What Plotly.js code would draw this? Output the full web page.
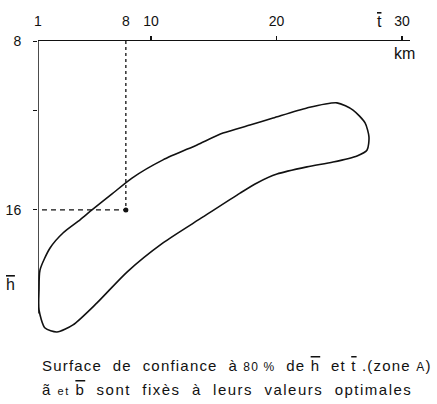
<!DOCTYPE html>
<html><head><meta charset="utf-8">
<script src="https://cdn.plot.ly/plotly-3.0.1.min.js"></script>
<style>body{margin:0;background:#fff}#c{width:437px;height:404px}</style>
</head><body><div id="c"></div>
<script>
// Confidence contour (t in km, h)
const contourT = [1.16,1.96,2.99,4.35,5.30,6.90,8.49,10.96,13.67,15.74,17.89,19.73,22.43,24.82,26.10,27.06,27.37,27.22,26.42,24.51,22.43,20.04,18.45,17.10,14.15,10.96,8.09,5.70,3.79,2.51,1.56,1.08,1.08,1.16];
const contourH = [18.84,17.80,17.09,16.47,16.00,15.24,14.49,13.63,12.92,12.36,11.98,11.65,11.17,10.93,11.27,11.88,12.54,13.16,13.44,13.73,13.96,14.30,14.72,15.20,16.33,17.56,18.94,20.40,21.44,21.78,21.59,20.73,19.79,18.84];
// Optimum point
const optT = [8];
const optH = [16];
const xTicks = [1, 8, 10, 20, 30];
const xMarks = [10, 20, 30];
const yTicks = [8, 11.3, 16];
const yTickText = ['8', '', '16'];

const F = 'Liberation Sans, Arial, sans-serif';
const ol = s => '<span style="text-decoration:overline">' + s + '</span>';
const traces = [
  {x: contourT, y: contourH, mode: 'lines', line: {color: '#111', width: 1.6, shape: 'spline', smoothing: 0.7}, hoverinfo: 'skip'},
  {x: [optT[0], optT[0]], y: [8, optH[0]], mode: 'lines', line: {color: '#111', width: 1.3, dash: '3px,3px'}},
  {x: [0.6, optT[0]], y: [optH[0], optH[0]], mode: 'lines', line: {color: '#111', width: 1.3, dash: '5px,4px'}, cliponaxis: false},
  {x: optT, y: optH, mode: 'markers', marker: {color: '#111', size: 5}, cliponaxis: false}
];
const layout = {
  width: 437, height: 404,
  margin: {l: 38, r: 27, t: 41, b: 69},
  showlegend: false,
  paper_bgcolor: '#fff', plot_bgcolor: '#fff',
  font: {family: F, color: '#111', size: 13},
  xaxis: {side: 'top', range: [1, 30.64], tickvals: xTicks, ticktext: xTicks.map(String),
          showline: true, linecolor: '#111', linewidth: 1.5, ticks: '',
          minor: {tickvals: xMarks, ticks: 'outside', ticklen: 4, tickcolor: '#111', tickwidth: 1.2},
          showgrid: false, zeroline: false, ticklabelstandoff: 8, tickfont: {size: 14}},
  yaxis: {range: [21.92, 8], tickvals: yTicks, ticktext: yTickText,
          showline: false, ticks: 'outside', ticklen: 4, tickcolor: '#111',
          showgrid: false, zeroline: false, ticklabelstandoff: 9, tickfont: {size: 14}},
  shapes: [
    {type: 'line', xref: 'x', yref: 'y', x0: 1, x1: 1, y0: 8, y1: 20.9, line: {color: '#111', width: 1.5}}
  ],
  annotations: [
    {xref: 'paper', yref: 'paper', x: -0.075, y: 0.173, xanchor: 'center', yanchor: 'middle', text: ol('h'), showarrow: false, font: {size: 16}},
    {xref: 'paper', yref: 'paper', x: 0.919, y: 1.067, xanchor: 'center', yanchor: 'middle', text: ol('t'), showarrow: false, font: {size: 16}},
    {xref: 'paper', yref: 'paper', x: 0.985, y: 0.959, xanchor: 'center', yanchor: 'middle', text: 'km', showarrow: false, font: {size: 16}},
    {xref: 'paper', yref: 'paper', x: 0.005, y: -0.105, xanchor: 'left', yanchor: 'middle', showarrow: false, font: {size: 15},
     text: '<span style="letter-spacing:1.2px">Surface  de  confiance  à <span style="font-size:12px">80 %</span>  de ' + ol('h') + '  et ' + ol('t') + ' .(zone <span style="font-size:12px">A</span>)</span>'},
    {xref: 'paper', yref: 'paper', x: 0.005, y: -0.187, xanchor: 'left', yanchor: 'middle', showarrow: false, font: {size: 15},
     text: '<span style="letter-spacing:1.5px">ã <span style="font-size:11px">et</span> ' + ol('b') + '  sont  fixès  à  leurs  valeurs  optimales</span>'}
  ]
};
Plotly.newPlot('c', traces, layout, {staticPlot: true});
</script></body></html>
